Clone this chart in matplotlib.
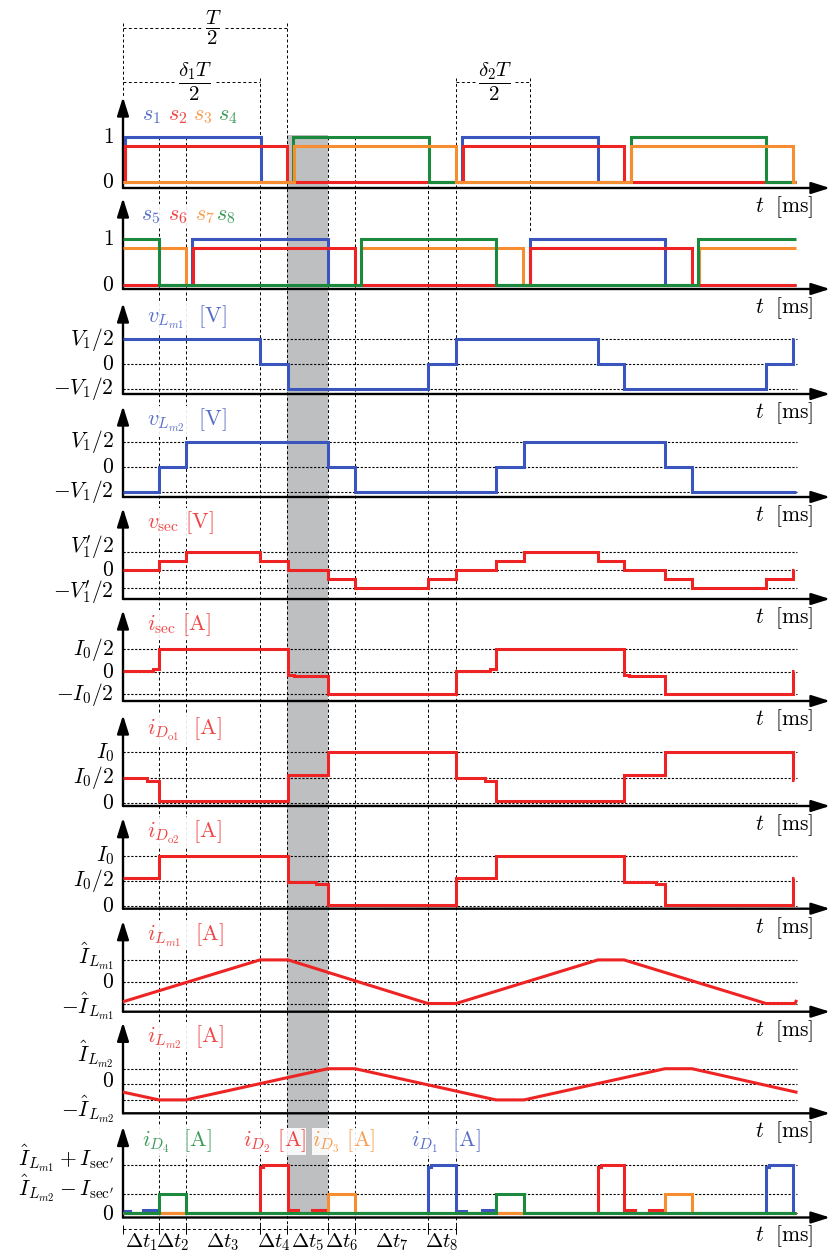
import matplotlib
matplotlib.use('Agg')
import matplotlib.pyplot as plt
from matplotlib.transforms import offset_copy

plt.rcParams['mathtext.fontset'] = 'cm'
plt.rcParams['font.family'] = ['DejaVu Serif']

BLUE = '#3b55bf'
RED = '#ee2424'
ORANGE = '#f78d31'
GREEN = '#1b8a3d'
GRAY = '#bebfc1'

# ---- data (time in ms) ----
guide_t = [0, 3.6, 6.3, 13.7, 16.4, 20.5, 23.2, 30.5, 33.3]
dt_labels = [r'$\Delta t_{%d}$' % k for k in range(1, 9)]
half_T = 16.4
d1T_end = 13.7
d2T_start, d2T_end = 33.3, 40.7
shade = (16.4, 20.5)

# gate signals
s1_e = [0, 0.2, 13.8, 33.9, 47.5, 67.3]; s1_v = [0, 1, 0, 1, 0]
s2_e = [0, 0.2, 16.4, 34.0, 50.1, 67.3]; s2_v = [0, 1, 0, 1, 0]
s3_e = [0, 17.1, 33.3, 50.8, 67.0, 67.3]; s3_v = [0, 1, 0, 1, 0]
s4_e = [0, 17.0, 30.6, 50.8, 64.3, 67.3]; s4_v = [0, 1, 0, 1, 0]
s5_e = [0, 6.9, 20.5, 40.7, 54.2, 67.3]; s5_v = [0, 1, 0, 1, 0]
s6_e = [0, 7.0, 23.2, 40.7, 56.9, 67.3]; s6_v = [0, 1, 0, 1, 0]
s7_e = [0, 6.3, 23.8, 40.0, 57.6, 67.3]; s7_v = [1, 0, 1, 0, 1]
s8_e = [0, 3.6, 23.8, 37.3, 57.5, 67.3]; s8_v = [1, 0, 1, 0, 1]

# voltages (units of V1/2)
vLm1_e = [0, 13.7, 16.5, 30.5, 33.3, 47.5, 50.1, 64.3, 67.0, 67.05]
vLm1_v = [1, 0, -1, 0, 1, 0, -1, 0, 1]
vLm2_e = [0, 3.6, 6.3, 20.5, 23.2, 37.3, 40.1, 54.2, 56.9, 67.3]
vLm2_v = [-1, 0, 1, 0, -1, 0, 1, 0, -1]
vsec_e = [0, 3.6, 6.3, 13.7, 16.5, 20.5, 23.2, 30.5, 33.3, 37.3, 40.1,
          47.5, 50.1, 54.2, 56.9, 64.3, 67.0, 67.05]
vsec_v = [0, .5, 1, .5, 0, -.5, -1, -.5, 0, .5, 1, .5, 0, -.5, -1, -.5, 0]

# currents (units of I0)
isec_e = [0, 3.0, 3.6, 16.5, 17.1, 20.5, 33.3, 36.7, 37.3, 50.1, 50.6, 54.2, 67.0, 67.05]
isec_v = [0.02, 0.05, 0.5, -0.07, -0.09, -0.5, 0.02, 0.05, 0.5, -0.07, -0.09, -0.5, 0.02]
iDo1_e = [0, 2.4, 3.6, 16.5, 20.5, 33.3, 36.2, 37.3, 50.1, 54.2, 67.0, 67.05]
iDo1_v = [0.49, 0.44, 0.03, 0.56, 1.0, 0.49, 0.44, 0.03, 0.55, 1.0, 0.46]
iDo2_e = [0, 3.6, 16.5, 19.3, 20.5, 33.3, 37.3, 50.1, 53.3, 54.2, 67.0, 67.05]
iDo2_v = [0.56, 1.0, 0.48, 0.43, 0.02, 0.56, 1.0, 0.48, 0.43, 0.02, 0.56]

# magnetizing currents (units of peak)
iLm1_t = [0, 13.7, 16.5, 30.5, 33.3, 47.5, 50.1, 64.3, 67.2, 67.3]
iLm1_v = [-0.92, 1, 1, -1, -1, 1, 1, -1, -1, -0.9]
iLm2_t = [0, 3.6, 6.3, 20.5, 23.2, 37.3, 40.1, 54.2, 56.9, 67.3]
iLm2_v = [-0.5, -1, -1, 1, 1, -1, -1, 1, 1, -0.5]

# diode currents (mid level = 1, top level = 2.5)
iD1_e = [0, 0.7, 2.0, 3.4, 30.5, 30.8, 33.3, 34.3, 35.9, 37.2, 64.3, 64.6, 67.0, 67.3]
iD1_v = [0.12, 0, 0.15, 0, 2.4, 2.5, 0.12, 0, 0.15, 0, 2.4, 2.5, 0]
iD2_e = [0, 13.7, 14.0, 16.5, 17.5, 18.9, 20.2, 47.5, 47.8, 50.1, 51.2, 52.6, 53.9, 67.3]
iD2_v = [0, 2.4, 2.5, 0.15, 0, 0.15, 0, 2.4, 2.5, 0.15, 0, 0.15, 0]
iD3_e = [0, 20.5, 23.2, 54.2, 56.9, 67.3]; iD3_v = [0, 1, 0, 1, 0]
iD4_e = [0, 3.6, 6.3, 37.3, 40.1, 67.3]; iD4_v = [0, 1, 0, 1, 0]

# ---- layout (pixels) ----
FW, FH = 831, 1252
X0, X1 = 123, 830
PXMS = 10.0
T_MAX = (X1 - X0) / PXMS
LVL_END = 67.4
LW = 2.2
FS = 16
TFS = 15.5

fig = plt.figure(figsize=(FW / 100, FH / 100), dpi=100)

# overlay for guide lines, shading and brackets
ov = fig.add_axes([0, 0, 1, 1])
ov.set_xlim(-X0 / PXMS, (FW - X0) / PXMS)
ov.set_ylim(FH, 0)
ov.axis('off')
dash = (0, (3, 2.5))
ov.fill_betweenx([135, 1213], shade[0], shade[1], color=GRAY, lw=0, zorder=0)
ov.vlines([3.6, 6.3, 20.5, 23.2, 30.5], 137, 1234, colors='k', linestyles=dash, lw=0.7)
ov.vlines([half_T], 23, 1234, colors='k', linestyles=dash, lw=0.7)
ov.vlines([0], 23, 97, colors='k', linestyles=dash, lw=0.7)
ov.vlines([d1T_end, d2T_start], 78, 1234, colors='k', linestyles=dash, lw=0.7)
ov.vlines([d2T_end], 78, 232, colors='k', linestyles=dash, lw=0.7)
# bracket lines, interrupted where the fraction sits
for y, a, b, c, half_gap, s in [(28, 0, half_T, 9.0, 1.2, r'$\dfrac{T}{2}$'),
                                (82, 0, d1T_end, 7.2, 2.1, r'$\dfrac{\delta_1 T}{2}$'),
                                (82, d2T_start, d2T_end, 37.2, 2.0, r'$\dfrac{\delta_2 T}{2}$')]:
    ov.hlines([y, y], [a, c + half_gap], [c - half_gap, b], colors='k', linestyles=dash, lw=0.7)
    ov.text(c, y, s, fontsize=15, ha='center', va='center')
# delta-t row
ov.hlines(1229, 0, guide_t[-1], colors='k', linestyles=dash, lw=0.7)
ov.vlines(guide_t, 1225, 1234, colors='k', lw=0.7)
for k, lab in enumerate(dt_labels):
    ov.text((guide_t[k] + guide_t[k + 1]) / 2, 1242, lab, fontsize=15,
            ha='center', va='center')


def make_panel(axis_px, zero_px, unit_px, levels=None, labels=None, shifts=None, dashed=True):
    tip_px = axis_px - 91
    ax = fig.add_axes([X0 / FW, 1 - axis_px / FH, (X1 - X0) / FW, (axis_px - tip_px) / FH])
    ax.set_xlim(0, T_MAX)
    ax.set_ylim((zero_px - axis_px) / unit_px, (zero_px - tip_px) / unit_px)
    ax.patch.set_visible(False)
    for sp in ax.spines.values():
        sp.set_visible(False)
    ax.set_xticks([])
    ax.set_yticks([])
    ap = dict(arrowstyle='-|>,head_length=0.7,head_width=0.22', lw=1.7, color='k',
              shrinkA=0, shrinkB=0, mutation_scale=16)
    ax.annotate('', xy=(1, 0), xytext=(0, 0), xycoords='axes fraction',
                arrowprops=ap, annotation_clip=False)
    ax.annotate('', xy=(0, 1), xytext=(0, 0), xycoords='axes fraction',
                arrowprops=ap, annotation_clip=False)
    tr = offset_copy(ax.transAxes, fig=fig, x=-17, y=-19, units='dots')
    ax.text(1.0, 0, r'$t\ \ [\mathrm{ms}]$', transform=tr, fontsize=15.5,
            ha='right', va='center')
    if levels is not None:
        if shifts is None:
            shifts = [0] * len(levels)
        for lv, lab, dy in zip(levels, labels, shifts):
            tr = offset_copy(ax.get_yaxis_transform(), fig=fig, x=-9, y=dy, units='dots')
            ax.text(0, lv, lab, transform=tr, fontsize=TFS, ha='right', va='center')
        if dashed:
            ax.hlines(levels, 0, LVL_END, colors='k', linestyles=(0, (2, 1.5)), lw=0.8, zorder=1)
    return ax


def title(ax, t, s, color, pad=1, drop=20):
    tr = offset_copy(ax.get_xaxis_transform(), fig=fig, y=-drop, units='dots')
    ax.text(t, 1, s, transform=tr, color=color, alpha=0.85, fontsize=FS,
            ha='left', va='baseline', zorder=5,
            bbox=dict(facecolor='white', edgecolor='none', alpha=0.9, pad=pad))


def stairs(ax, e, v, color, scale=1.0, z=3):
    ax.stairs([x * scale for x in v], e, baseline=None, color=color, lw=LW, zorder=z)


# panel 1: s1..s4
ax = make_panel(188, 182, 45, [0, 1], ['$0$', '$1$'], dashed=False)
stairs(ax, s1_e, s1_v, BLUE, z=3)
stairs(ax, s2_e, s2_v, RED, 0.8, z=4)
stairs(ax, s4_e, s4_v, GREEN, z=5)
stairs(ax, s3_e, s3_v, ORANGE, 0.8, z=6)
for t, s, c in [(1.9, '$s_1$', BLUE), (4.5, '$s_2$', RED), (7.0, '$s_3$', ORANGE), (9.5, '$s_4$', GREEN)]:
    title(ax, t, s, c, pad=0, drop=23)

# panel 2: s5..s8
ax = make_panel(289, 285, 46, [0, 1], ['$0$', '$1$'], dashed=False)
stairs(ax, s5_e, s5_v, BLUE, z=3)
stairs(ax, s7_e, s7_v, ORANGE, 0.8, z=4)
stairs(ax, s6_e, s6_v, RED, 0.8, z=5)
stairs(ax, s8_e, s8_v, GREEN, z=6)
for t, s, c in [(1.8, '$s_5$', BLUE), (4.5, '$s_6$', RED), (7.2, '$s_7$', ORANGE), (9.3, '$s_8$', GREEN)]:
    title(ax, t, s, c, pad=0, drop=22)

vlabs = [r'$-V_1/2$', '$0$', r'$V_1/2$']
ax = make_panel(394, 364, 24.7, [-1, 0, 1], vlabs)
stairs(ax, vLm1_e, vLm1_v, BLUE)
title(ax, 2.4, r'$v_{L_{m1}}\ \ [\mathrm{V}]$', BLUE)

ax = make_panel(497, 466.7, 25, [-1, 0, 1], vlabs)
stairs(ax, vLm2_e, vLm2_v, BLUE)
title(ax, 2.4, r'$v_{L_{m2}}\ \ [\mathrm{V}]$', BLUE)

ax = make_panel(599, 570, 18.3, [-1, 0, 1], [r"$-V_1^{\prime}/2$", '$0$', r"$V_1^{\prime}/2$"],
                shifts=[-4, 0, 4])
stairs(ax, vsec_e, vsec_v, RED)
title(ax, 2.4, r'$v_{\mathrm{sec}}\ [\mathrm{V}]$', RED)

ax = make_panel(701, 671.7, 44.8, [-0.5, 0, 0.5], [r'$-I_0/2$', '$0$', r'$I_0/2$'])
stairs(ax, isec_e, isec_v, RED)
title(ax, 2.4, r'$i_{\mathrm{sec}}\ [\mathrm{A}]$', RED)

ilabs = ['$0$', r'$I_0/2$', r'$I_0$']
ax = make_panel(806, 803, 50.7, [0, 0.5, 1], ilabs)
stairs(ax, iDo1_e, iDo1_v, RED)
title(ax, 2.4, r'$i_{D_{\mathrm{o1}}}\ \ [\mathrm{A}]$', RED)

ax = make_panel(908.7, 905.5, 49.8, [0, 0.5, 1], ilabs)
stairs(ax, iDo2_e, iDo2_v, RED)
title(ax, 2.4, r'$i_{D_{\mathrm{o2}}}\ \ [\mathrm{A}]$', RED)

ax = make_panel(1011.7, 981.7, 21.8, [-1, 0, 1],
                [r'$-\hat{I}_{L_{m1}}$', '$0$', r'$\hat{I}_{L_{m1}}$'], shifts=[-3, 0, 4])
ax.plot(iLm1_t, iLm1_v, color=RED, lw=LW, zorder=3)
title(ax, 2.4, r'$i_{L_{m1}}\ \ [\mathrm{A}]$', RED)

ax = make_panel(1113.3, 1084.3, 15.6, [-1, 0, 1],
                [r'$-\hat{I}_{L_{m2}}$', '$0$', r'$\hat{I}_{L_{m2}}$'], shifts=[-9, 3, 14])
ax.plot(iLm2_t, iLm2_v, color=RED, lw=LW, zorder=3)
title(ax, 2.4, r'$i_{L_{m2}}\ \ [\mathrm{A}]$', RED)

ax = make_panel(1217.5, 1213.3, 19.3, [0, 1, 2.5],
                ['$0$', r"$\hat{I}_{L_{m2}}-I_{\mathrm{sec}^{\prime}}$",
                 r"$\hat{I}_{L_{m1}}+I_{\mathrm{sec}^{\prime}}$"], shifts=[-1, 6, 7])
stairs(ax, iD1_e, iD1_v, BLUE, z=3)
stairs(ax, iD2_e, iD2_v, RED, z=4)
stairs(ax, iD3_e, iD3_v, ORANGE, z=5)
stairs(ax, iD4_e, iD4_v, GREEN, z=6)
title(ax, 1.9, r'$i_{D_4}\ \ [\mathrm{A}]$', GREEN)
title(ax, 12.0, r'$i_{D_2}\ [\mathrm{A}]$', RED, pad=0)
title(ax, 18.9, r'$i_{D_3}\ [\mathrm{A}]$', ORANGE, pad=0)
title(ax, 28.8, r'$i_{D_1}\ \ [\mathrm{A}]$', BLUE)

fig.savefig('out.png', dpi=100)
